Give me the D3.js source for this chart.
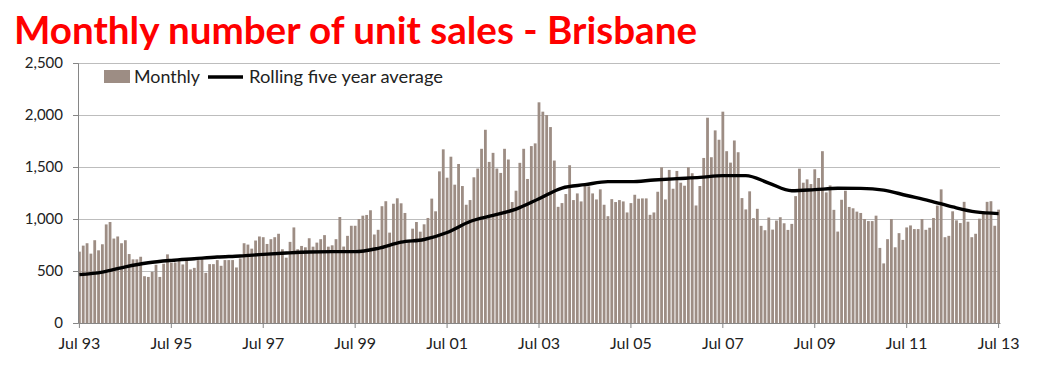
<!DOCTYPE html>
<html><head><meta charset="utf-8">
<script src="https://cdn.jsdelivr.net/npm/d3@7"></script>
<style>body{margin:0;background:#fff;} svg{display:block;}</style>
</head><body>
<svg id="chart" width="1037" height="378"></svg>
<script>
// ---- data ----
const monthNames = ["Jan","Feb","Mar","Apr","May","Jun","Jul","Aug","Sep","Oct","Nov","Dec"];
const months = []; // categories Jul 93 .. Jul 13
for (let k = 0; k < 241; k++) {
  const m = (6 + k) % 12, yy = (93 + Math.floor((6 + k) / 12)) % 100;
  months.push(monthNames[m] + " " + String(yy).padStart(2, "0"));
}
const monthlySales = [
  686,744,767,667,796,699,757,948,971,812,832,767,796,663,612,612,637,450,443,492,
  560,443,570,660,582,582,600,563,605,515,530,605,615,482,566,566,605,550,605,605,
  605,534,621,767,754,715,793,832,825,760,806,825,858,709,628,780,919,709,741,728,
  815,734,773,806,845,734,747,806,1019,735,838,935,935,1000,1032,1039,1084,851,896,1123,1171,
  869,1147,1199,1151,1058,800,907,971,878,949,1010,1196,1074,1458,1670,1397,1599,1330,1529,1317,
  1137,1182,1401,1485,1675,1858,1549,1636,1485,1443,1675,1572,1163,1272,1540,1675,1385,1701,1727,2122,
  2032,2000,1884,1562,1117,1153,1240,1517,1182,1246,1169,1323,1314,1246,1188,1285,1137,1027,1191,1163,
  1182,1169,1063,1153,1233,1195,1198,1198,1040,1063,1262,1497,1188,1472,1291,1462,1349,1320,1497,1440,
  1130,1317,1587,1974,1594,1852,1762,2032,1652,1542,1755,1642,1201,1092,1266,1008,1098,934,892,1014,
  898,985,1017,959,895,953,1220,1484,1349,1381,1336,1478,1394,1652,1256,1323,1088,879,1185,1272,
  1116,1103,1071,1058,1000,980,980,1032,722,573,806,1000,728,864,799,919,938,903,903,1000,896,
  916,1010,1129,1285,825,838,1074,987,961,1165,974,825,858,1003,1071,1165,1171,935,1090
];
const avgMonths = ["Jul 93","Jan 94","Jul 94","Jan 95","Jul 95","Jan 96","Jul 96","Jan 97","Jul 97","Jan 98",
  "Jul 98","Jan 99","Jul 99","Jan 00","Jul 00","Jan 01","Jul 01","Jan 02","Jul 02","Jan 03",
  "Jul 03","Jan 04","Jul 04","Jan 05","Jul 05","Jan 06","Jul 06","Jan 07","Jul 07","Jan 08",
  "Jul 08","Jan 09","Jul 09","Jan 10","Jul 10","Jan 11","Jul 11","Jan 12","Jul 12","Jan 13","Jul 13"];
const avgValues = [465,489,540,579,602,618,634,644,660,673,
  683,686,686,718,777,803,870,976,1034,1095,
  1195,1298,1330,1359,1359,1375,1388,1400,1417,1417,
  1346,1272,1282,1295,1294,1278,1226,1175,1116,1068,1052];
const yTicks = [0,500,1000,1500,2000,2500];
const xTickLabels = ["Jul 93","Jul 95","Jul 97","Jul 99","Jul 01","Jul 03","Jul 05","Jul 07","Jul 09","Jul 11","Jul 13"];
const titleText = "Monthly number of unit sales - Brisbane";
const legendLabels = ["Monthly","Rolling five year average"];

// ---- drawing ----
(function () {
const svg = d3.select("#chart");
const FONT = "Lato, 'Open Sans', sans-serif";
const barColor = "#9d8d84";
const pLeft = 78, pRight = 1000, pTop = 63, pBottom = 323;

const x = d3.scaleBand().domain(months).range([pLeft, pRight]).paddingInner(0.27).paddingOuter(0);
const y = d3.scaleLinear().domain([0, 2500]).range([pBottom, pTop]);

// title
svg.append("text").attr("x", 14).attr("y", 44)
  .attr("font-family", FONT).attr("font-weight", "bold").attr("font-size", 38)
  .attr("fill", "#ff0000").attr("textLength", 683).attr("lengthAdjust", "spacingAndGlyphs")
  .text(titleText);

// gridlines
svg.append("g").selectAll("line").data(yTicks.filter(d => d > 0)).join("line")
  .attr("x1", pLeft).attr("x2", pRight).attr("y1", d => y(d)).attr("y2", d => y(d))
  .attr("stroke", "#bdbdbd").attr("stroke-width", 1).attr("shape-rendering", "crispEdges");

// bars
svg.append("g").selectAll("rect").data(monthlySales).join("rect")
  .attr("x", (d, i) => x(months[i])).attr("width", x.bandwidth())
  .attr("y", d => y(d)).attr("height", d => y(0) - y(d))
  .attr("fill", barColor);

// rolling average line
const line = d3.line()
  .x((d, i) => x(avgMonths[i]) + x.bandwidth() / 2)
  .y(d => y(d))
  .curve(d3.curveMonotoneX);
svg.append("path").datum(avgValues).attr("d", line)
  .attr("fill", "none").attr("stroke", "#000").attr("stroke-width", 3.4)
  .attr("stroke-linejoin", "round");

// y axis
const yAxis = svg.append("g").attr("transform", `translate(${pLeft},0)`)
  .call(d3.axisLeft(y).tickValues(yTicks).tickFormat(d3.format(",")).tickSize(5).tickPadding(10));
yAxis.select(".domain").attr("stroke", "#868686");
yAxis.selectAll(".tick line").attr("stroke", "#868686");
yAxis.selectAll("text").attr("font-family", FONT).attr("font-size", 15).attr("fill", "#222");

// x axis
const xAxis = svg.append("g").attr("transform", `translate(0,${pBottom})`)
  .call(d3.axisBottom(x).tickValues(xTickLabels).tickSize(5).tickSizeOuter(0).tickPadding(10));
xAxis.select(".domain").attr("stroke", "#868686");
xAxis.selectAll(".tick line").attr("stroke", "#868686");
xAxis.selectAll("text").attr("font-family", FONT).attr("font-size", 16).attr("fill", "#222");

// legend
const lg = svg.append("g");
lg.append("rect").attr("x", 104).attr("y", 70).attr("width", 26).attr("height", 13).attr("fill", barColor);
lg.append("text").attr("x", 134).attr("y", 83).attr("font-family", FONT).attr("font-size", 17)
  .attr("fill", "#222").attr("textLength", 66).attr("lengthAdjust", "spacingAndGlyphs").text(legendLabels[0]);
lg.append("line").attr("x1", 208).attr("x2", 243).attr("y1", 77).attr("y2", 77)
  .attr("stroke", "#000").attr("stroke-width", 3.4);
lg.append("text").attr("x", 249).attr("y", 83).attr("font-family", FONT).attr("font-size", 17)
  .attr("fill", "#222").attr("textLength", 194).attr("lengthAdjust", "spacingAndGlyphs").text(legendLabels[1]);
})();
</script>
</body></html>
